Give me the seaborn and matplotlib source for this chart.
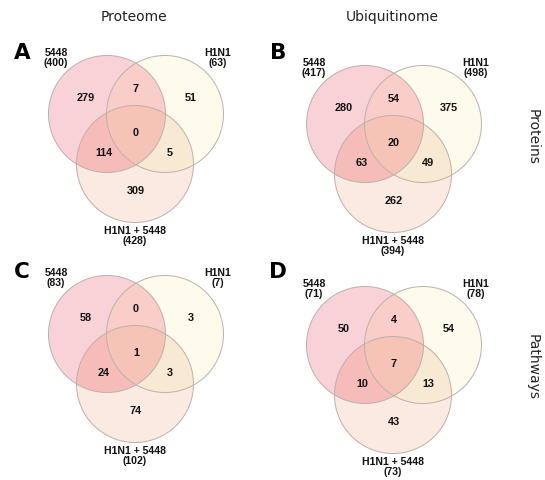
import numpy as np
import matplotlib
matplotlib.use("Agg")
import matplotlib.pyplot as plt
from matplotlib.patches import Circle, Polygon
import seaborn as sns

# set names and counts for each panel
# region order: only 5448, 5448&H1N1, only H1N1, all three, 5448&combo, H1N1&combo, only combo
panels = ["A", "B", "C", "D"]
set_names = ["5448", "H1N1", "H1N1 + 5448"]
counts_A = [279, 7, 51, 0, 114, 5, 309]
counts_B = [280, 54, 375, 20, 63, 49, 262]
counts_C = [58, 0, 3, 1, 24, 3, 74]
counts_D = [50, 4, 54, 7, 10, 13, 43]
totals_A = [400, 63, 428]
totals_B = [417, 498, 394]
totals_C = [83, 7, 102]
totals_D = [71, 78, 73]
col_titles = ["Proteome", "Ubiquitinome"]
row_titles = ["Proteins", "Pathways"]

all_counts = [counts_A, counts_B, counts_C, counts_D]
all_totals = [totals_A, totals_B, totals_C, totals_D]

sns.set_theme(style="white")
plt.rcParams['font.family'] = ['Liberation Sans', 'DejaVu Sans']

# fill colours: single sets, pairs and the centre
single_cols = sns.color_palette(["#f9d2d8", "#fefbed", "#fbeae1"])
pair_cols = {(0, 1): "#f9cdc8", (0, 2): "#f6bcba", (1, 2): "#f8ead2"}
centre_col = "#f6c4b6"
edge_col = "#bcb0aa"

R = 58.5
offsets = [(0, 0), (58, 0), (28, 50)]
origins = [(107, 114), (365, 124), (107, 334), (365, 345)]
letter_pos = [(22, 53), (278, 53), (22, 272), (278, 272)]
# number spots relative to panel origin (same order as counts)
num_pos = [(-21, -16), (29, -25), (84, -16), (29, 19), (-3, 39), (63, 39), (29, 77)]
label_pos = [(-51, -56), (111, -56), (28, 122)]


def region_poly(centers, r, n=1440):
    # intersection of disks (convex) from boundary samples
    pts = []
    t = np.linspace(0, 2 * np.pi, n, endpoint=False)
    for i, (cx, cy) in enumerate(centers):
        p = np.c_[cx + r * np.cos(t), cy + r * np.sin(t)]
        keep = np.ones(n, bool)
        for j, (ox, oy) in enumerate(centers):
            if j != i:
                keep &= np.hypot(p[:, 0] - ox, p[:, 1] - oy) <= r + 1e-6
        pts.append(p[keep])
    pts = np.vstack(pts)
    c = pts.mean(axis=0)
    ang = np.arctan2(pts[:, 1] - c[1], pts[:, 0] - c[0])
    return pts[np.argsort(ang)]


fig = plt.figure(figsize=(5.45, 4.8), dpi=100)
ax = fig.add_axes([0, 0, 1, 1])
ax.set_xlim(0, 545)
ax.set_ylim(480, 0)
ax.axis("off")

for k in range(4):
    ox, oy = origins[k]
    centers = [(ox + dx, oy + dy) for dx, dy in offsets]
    for i, (cx, cy) in enumerate(centers):
        ax.add_patch(Circle((cx, cy), R, facecolor=single_cols[i], edgecolor="none", zorder=1))
    for (i, j), col in pair_cols.items():
        ax.add_patch(Polygon(region_poly([centers[i], centers[j]], R), closed=True,
                             facecolor=col, edgecolor="none", zorder=2))
    ax.add_patch(Polygon(region_poly(centers, R), closed=True,
                         facecolor=centre_col, edgecolor="none", zorder=3))
    for cx, cy in centers:
        ax.add_patch(Circle((cx, cy), R, facecolor="none", edgecolor=edge_col, lw=0.7, zorder=4))

    for val, (dx, dy) in zip(all_counts[k], num_pos):
        ax.text(ox + dx, oy + dy, str(val), ha="center", va="center",
                fontsize=7.8, fontweight="bold", color="#111111", zorder=5)
    for name, tot, (dx, dy) in zip(set_names, all_totals[k], label_pos):
        ax.text(ox + dx, oy + dy, f"{name}\n({tot})", ha="center", va="center",
                fontsize=7.6, fontweight="bold", color="#111111", linespacing=1.1, zorder=5)
    lx, ly = letter_pos[k]
    ax.text(lx, ly, panels[k], ha="center", va="center", fontsize=15.5,
            fontweight="bold", family="DejaVu Sans", color="black")

ax.text(134, 17, col_titles[0], ha="center", va="center", fontsize=10, family="DejaVu Sans", color="#222222")
ax.text(392, 17, col_titles[1], ha="center", va="center", fontsize=10, family="DejaVu Sans", color="#222222")
ax.text(533, 137, row_titles[0], ha="center", va="center", rotation=270, fontsize=10,
        family="DejaVu Sans", color="#222222")
ax.text(533, 367, row_titles[1], ha="center", va="center", rotation=270, fontsize=10,
        family="DejaVu Sans", color="#222222")

fig.savefig("out.png", dpi=100)
